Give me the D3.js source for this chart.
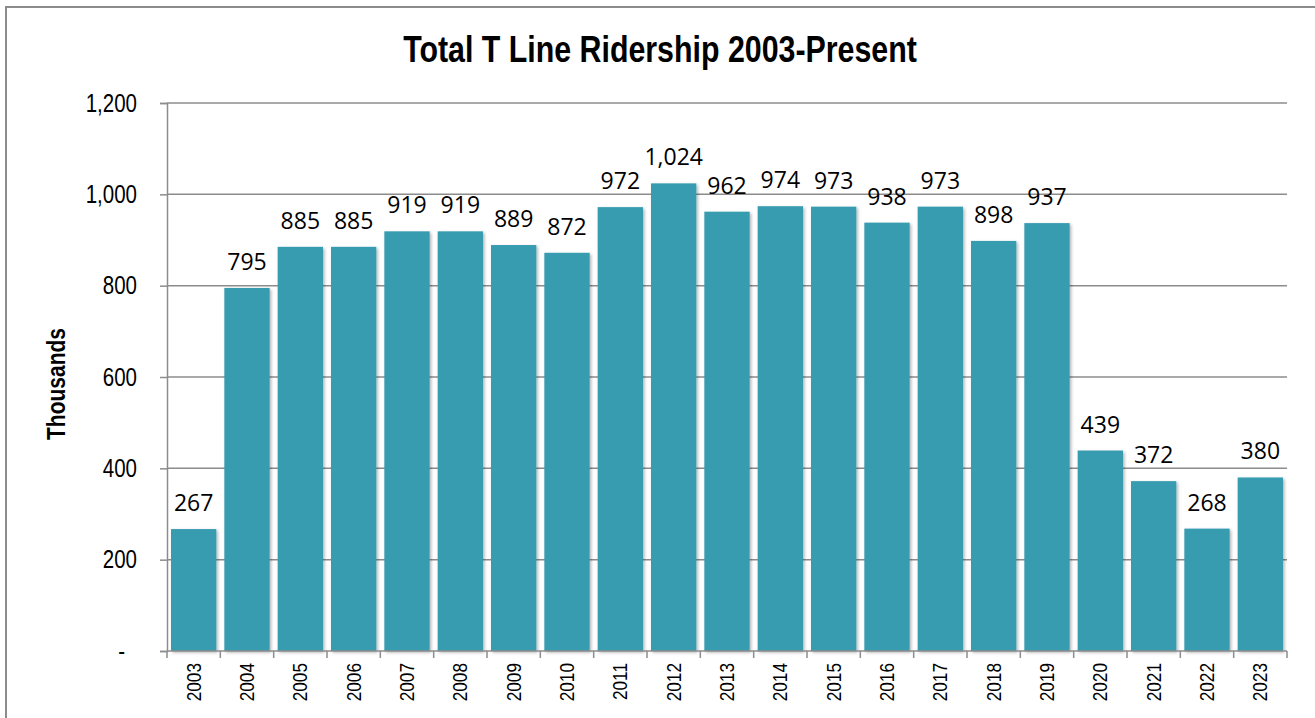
<!DOCTYPE html>
<html>
<head>
<meta charset="utf-8">
<script src="https://cdn.jsdelivr.net/npm/d3@7"></script>
<style>
  body { margin: 0; background: #fff; }
  svg { display: block; }
</style>
</head>
<body>
<div id="chart"></div>
<script>
// data (thousands of riders)
var years = ["2003","2004","2005","2006","2007","2008","2009","2010","2011","2012","2013",
             "2014","2015","2016","2017","2018","2019","2020","2021","2022","2023"];
var riders = [267,795,885,885,919,919,889,872,972,1024,962,974,973,938,973,898,937,439,372,268,380];
var yTicks = [0,200,400,600,800,1000,1200];

var W = 1315, H = 718;
var margin = {top: 103, right: 28, bottom: 67, left: 167};
var width = 1287 - margin.left,
    height = 651 - margin.top;

var narrowFont = "'Liberation Sans Narrow', 'Arial Narrow', 'Liberation Sans', Arial, sans-serif";

// no narrow face installed, so squeeze the glyphs to an Arial Narrow width
function narrow(sel, factor) {
  sel.each(function() {
    var len = this.getComputedTextLength();
    d3.select(this)
      .attr("textLength", len * factor)
      .attr("lengthAdjust", "spacingAndGlyphs");
  });
}

var svg = d3.select("#chart")
  .append("svg")
  .attr("width", W)
  .attr("height", H);

// soft shadow under the bars
var defs = svg.append("defs");
defs.append("filter")
  .attr("id", "shadow")
  .attr("x", "-10%").attr("y", "-10%").attr("width", "130%").attr("height", "130%")
  .append("feDropShadow")
  .attr("dx", 1.5).attr("dy", 1.5).attr("stdDeviation", 1.5)
  .attr("flood-color", "#000").attr("flood-opacity", 0.3);

// outer frame
svg.append("path")
  .attr("d", "M6," + H + "V7H" + W)
  .attr("fill", "none")
  .attr("stroke", "#8c8c8c")
  .attr("stroke-width", 2);

var g = svg.append("g")
  .attr("transform", "translate(" + margin.left + "," + margin.top + ")");

var x = d3.scaleBand()
  .domain(years)
  .range([0, width])
  .padding(0);

var y = d3.scaleLinear()
  .domain([0, 1200])
  .range([height, 0]);

var barW = x.step() * 0.85;

// gridlines
g.append("g")
  .selectAll("line")
  .data(yTicks.slice(1))
  .enter().append("line")
  .attr("x1", 0).attr("x2", width)
  .attr("y1", function(d) { return y(d); })
  .attr("y2", function(d) { return y(d); })
  .attr("stroke", "#8c8c8c")
  .attr("stroke-width", 1.5);

// Y axis
var yAxis = g.append("g")
  .call(d3.axisLeft(y)
    .tickValues(yTicks)
    .tickSize(7)
    .tickPadding(23)
    .tickFormat(function(d) { return d === 0 ? "-" : d3.format(",")(d); }));
yAxis.select(".domain").attr("stroke", "#8c8c8c").attr("stroke-width", 1.5);
yAxis.selectAll(".tick line").attr("stroke", "#8c8c8c").attr("stroke-width", 1.5);
yAxis.selectAll("text")
  .style("font-family", narrowFont)
  .style("font-size", "25px")
  .attr("fill", "#000")
  .call(narrow, 0.82);
yAxis.selectAll(".tick").filter(function(d) { return d === 0; }).select("text")
  .attr("dx", -12);

// bars
g.append("g")
  .selectAll("rect")
  .data(years)
  .enter().append("rect")
  .attr("x", function(d) { return x(d) + (x.step() - barW) / 2; })
  .attr("y", function(d, i) { return y(riders[i]); })
  .attr("width", barW)
  .attr("height", function(d, i) { return height - y(riders[i]); })
  .attr("fill", "#389cb1")
  .attr("filter", "url(#shadow)");

// value labels
g.append("g")
  .selectAll("text")
  .data(years)
  .enter().append("text")
  .attr("x", function(d) { return x(d) + x.step() / 2; })
  .attr("y", function(d, i) { return y(riders[i]) - 18; })
  .attr("text-anchor", "middle")
  .style("font-family", "'Open Sans', 'Noto Sans', sans-serif")
  .style("font-size", "23px")
  .attr("fill", "#000")
  .text(function(d, i) { return d3.format(",")(riders[i]); });

// X axis, ticks at the category boundaries
var xAxis = g.append("g")
  .attr("transform", "translate(0," + height + ")");
xAxis.append("line")
  .attr("x1", 0).attr("x2", width)
  .attr("stroke", "#8c8c8c").attr("stroke-width", 1.5);
xAxis.selectAll(".bound")
  .data(d3.range(years.length + 1))
  .enter().append("line")
  .attr("class", "bound")
  .attr("x1", function(i) { return i * x.step(); })
  .attr("x2", function(i) { return i * x.step(); })
  .attr("y1", 0).attr("y2", 7)
  .attr("stroke", "#8c8c8c").attr("stroke-width", 1.5);
xAxis.selectAll(".yr")
  .data(years)
  .enter().append("text")
  .attr("class", "yr")
  .attr("transform", function(d) {
    return "translate(" + (x(d) + x.step() / 2 + 7) + ",12)rotate(-90)";
  })
  .attr("text-anchor", "end")
  .style("font-family", narrowFont)
  .style("font-size", "21px")
  .attr("fill", "#000")
  .text(function(d) { return d; })
  .call(narrow, 0.82);

// Title
svg.append("text")
  .attr("x", 660)
  .attr("y", 62)
  .attr("text-anchor", "middle")
  .style("font-family", narrowFont)
  .style("font-weight", "bold")
  .style("font-size", "37px")
  .attr("fill", "#000")
  .text("Total T Line Ridership 2003-Present")
  .call(narrow, 0.82);

// Y label
svg.append("text")
  .attr("transform", "translate(65,384)rotate(-90)")
  .attr("text-anchor", "middle")
  .style("font-family", narrowFont)
  .style("font-weight", "bold")
  .style("font-size", "25px")
  .attr("fill", "#000")
  .text("Thousands")
  .call(narrow, 0.84);
</script>
</body>
</html>
